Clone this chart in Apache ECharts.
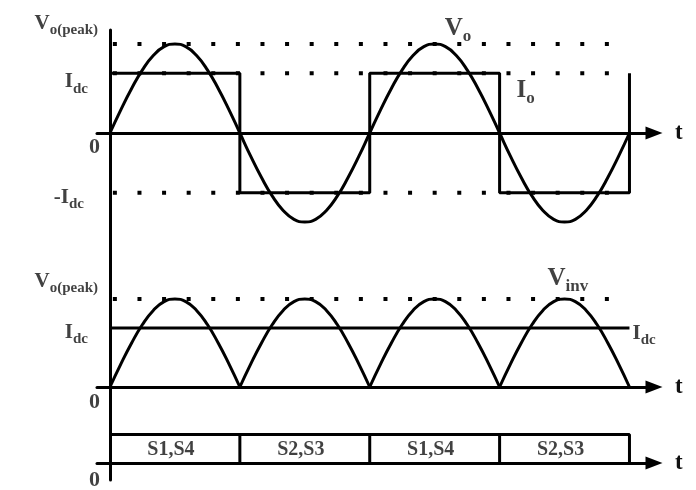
<!DOCTYPE html>
<html><head><meta charset="utf-8">
<script src="https://cdn.jsdelivr.net/npm/echarts@6/dist/echarts.min.js"></script>
<style>html,body{margin:0;padding:0;background:#fff}#c{width:696px;height:490px}</style>
</head><body><div id="c"></div>
<script>
// ---- data (phase in electrical degrees) ----
const phaseDeg = [0,15,30,45,60,75,90,105,120,135,150,165,180,195,210,225,240,255,270,285,300,315,330,345,360,375,390,405,420,435,450,465,480,495,510,525,540,555,570,585,600,615,630,645,660,675,690,705,720];
const voValues = [0,0.26,0.5,0.71,0.87,0.97,1,0.97,0.87,0.71,0.5,0.26,0,-0.26,-0.5,-0.71,-0.87,-0.97,-1,-0.97,-0.87,-0.71,-0.5,-0.26,0,0.26,0.5,0.71,0.87,0.97,1,0.97,0.87,0.71,0.5,0.26,0,-0.26,-0.5,-0.71,-0.87,-0.97,-1,-0.97,-0.87,-0.71,-0.5,-0.26,0];
const vinvValues = [0,0.26,0.5,0.71,0.87,0.97,1,0.97,0.87,0.71,0.5,0.26,0,0.26,0.5,0.71,0.87,0.97,1,0.97,0.87,0.71,0.5,0.26,0,0.26,0.5,0.71,0.87,0.97,1,0.97,0.87,0.71,0.5,0.26,0,0.26,0.5,0.71,0.87,0.97,1,0.97,0.87,0.71,0.5,0.26,0];
const ioPhase = [0,180,180,360,360,540,540,720,720];
const ioValues = [0.67,0.67,-0.67,-0.67,0.67,0.67,-0.67,-0.67,0.67];
const vPeak = 1;
const iDc = 0.67;
const switchBounds = [0,180,360,540,720];
const switchLabels = ['S1,S4','S2,S3','S1,S4','S2,S3'];

// ---- styling / layout ----
const INK = '#111';
const SERIF = '"Liberation Serif","Times New Roman",serif';
const X_MIN = -18, X_MAX = 754;
const GUIDE_START = 4, GUIDE_END = 692;

const rich = {
  m: {fontFamily: SERIF, fontWeight: 'bold', fontSize: 21, color: INK, lineHeight: 22, verticalAlign: 'top'},
  s: {fontFamily: SERIF, fontWeight: 'bold', fontSize: 15, color: INK, lineHeight: 15, verticalAlign: 'top', padding: [10,0,0,0]},
  M: {fontFamily: SERIF, fontWeight: 'bold', fontSize: 25, color: INK, lineHeight: 26, verticalAlign: 'top'},
  S: {fontFamily: SERIF, fontWeight: 'bold', fontSize: 17, color: INK, lineHeight: 17, verticalAlign: 'top', padding: [12,0,0,0]},
  n: {fontFamily: SERIF, fontWeight: 'bold', fontSize: 22, color: INK, lineHeight: 22},
  w: {fontFamily: SERIF, fontWeight: 'bold', fontSize: 20, color: INK, lineHeight: 20}
};

const solid = {color: '#000', width: 3};
const dotted = {color: '#000', width: 4, type: [4, 20.6], cap: 'butt'};

function pts(xs, ys) { return xs.map((x, i) => [x, ys[i]]); }
function line(gi, data, style, smooth) {
  return {type: 'line', xAxisIndex: gi, yAxisIndex: gi, data: data, symbol: 'none', showSymbol: false,
    smooth: smooth || false, lineStyle: style, silent: true, z: 3, clip: false};
}
function labels(gi, items) {
  return {type: 'scatter', xAxisIndex: gi, yAxisIndex: gi, symbolSize: 1, silent: true, z: 5,
    itemStyle: {color: 'transparent'},
    data: items.map(it => ({value: it.at, label: {show: true, position: 'inside', formatter: it.text,
      align: it.align, verticalAlign: 'middle', offset: it.off, rich: rich}}))};
}

const grids = [
  {left: 97, width: 557, top: 30, height: 207},
  {left: 97, width: 557, top: 236, height: 185},
  {left: 97, width: 557, top: 420, height: 60}
];
const yRanges = [[-1.1685, 1.1573], [-0.3864, 1.7159], [-0.5965, 1.5088]];

const xAxes = grids.map((g, i) => ({
  gridIndex: i, type: 'value', min: X_MIN, max: X_MAX,
  axisLine: {show: true, onZero: true, symbol: ['none', 'triangle'], symbolSize: [13, 17], lineStyle: solid},
  axisTick: {show: false}, axisLabel: {show: false}, splitLine: {show: false},
  name: 't', nameLocation: 'end', nameGap: 21,
  nameTextStyle: {fontFamily: SERIF, fontWeight: 'bold', fontSize: 23, color: INK, verticalAlign: 'middle'}
}));
const yAxes = grids.map((g, i) => ({
  gridIndex: i, type: 'value', min: yRanges[i][0], max: yRanges[i][1],
  axisLine: {show: true, onZero: true, lineStyle: solid},
  axisTick: {show: false}, axisLabel: {show: false}, splitLine: {show: false}
}));

const series = [];
// top panel
series.push(line(0, [[GUIDE_START, vPeak], [GUIDE_END, vPeak]], dotted));
series.push(line(0, [[GUIDE_START, iDc], [GUIDE_END, iDc]], dotted));
series.push(line(0, [[GUIDE_START, -iDc], [720, -iDc]], dotted));
series.push(line(0, pts(ioPhase, ioValues), solid));
series.push(line(0, pts(phaseDeg, voValues), solid, true));
series.push(labels(0, [
  {at: [0, vPeak], text: '{m|V}{s|o(peak)}', align: 'right', off: [-12, -20]},
  {at: [0, iDc], text: '{m|I}{s|dc}', align: 'right', off: [-22, 9]},
  {at: [0, 0], text: '{n|0}', align: 'right', off: [-10, 14]},
  {at: [0, -iDc], text: '{m|-I}{s|dc}', align: 'right', off: [-26, 5]},
  {at: [450, vPeak], text: '{M|V}{S|o}', align: 'left', off: [10, -15]},
  {at: [540, iDc], text: '{M|I}{S|o}', align: 'left', off: [17, 18]}
]));
// middle panel
series.push(line(1, [[GUIDE_START, vPeak], [GUIDE_END, vPeak]], dotted));
series.push(line(1, [[0, iDc], [720, iDc]], solid));
for (let k = 0; k < 4; k++) {
  const a = k * 12, b = a + 13;
  series.push(line(1, pts(phaseDeg.slice(a, b), vinvValues.slice(a, b)), solid, true));
}
series.push(labels(1, [
  {at: [0, vPeak], text: '{m|V}{s|o(peak)}', align: 'right', off: [-12, -17]},
  {at: [0, iDc], text: '{m|I}{s|dc}', align: 'right', off: [-22, 5]},
  {at: [0, 0], text: '{n|0}', align: 'right', off: [-10, 15]},
  {at: [630, vPeak], text: '{M|V}{S|inv}', align: 'left', off: [-17, -20]},
  {at: [720, iDc], text: '{m|I}{s|dc}', align: 'left', off: [3, 6]}
]));
// bottom panel: switching intervals
series.push(line(2, [[switchBounds[0], 1], [switchBounds[4], 1], [switchBounds[4], 0]], solid));
for (let k = 1; k < 4; k++) series.push(line(2, [[switchBounds[k], 1], [switchBounds[k], 0]], solid));
series.push(labels(2, switchLabels.map((t, k) => ({
  at: [(switchBounds[k] + switchBounds[k + 1]) / 2, 0.5], text: '{w|' + t + '}', align: 'center', off: [-4, 1]
})).concat([{at: [0, 0], text: '{n|0}', align: 'right', off: [-10, 17]}])));

const chart = echarts.init(document.getElementById('c'), null, {renderer: 'canvas'});
chart.setOption({
  animation: false,
  backgroundColor: '#fff',
  grid: grids.map(g => Object.assign({outerBoundsMode: 'none', containLabel: false}, g)),
  xAxis: xAxes,
  yAxis: yAxes,
  series: series
});
</script></body></html>
